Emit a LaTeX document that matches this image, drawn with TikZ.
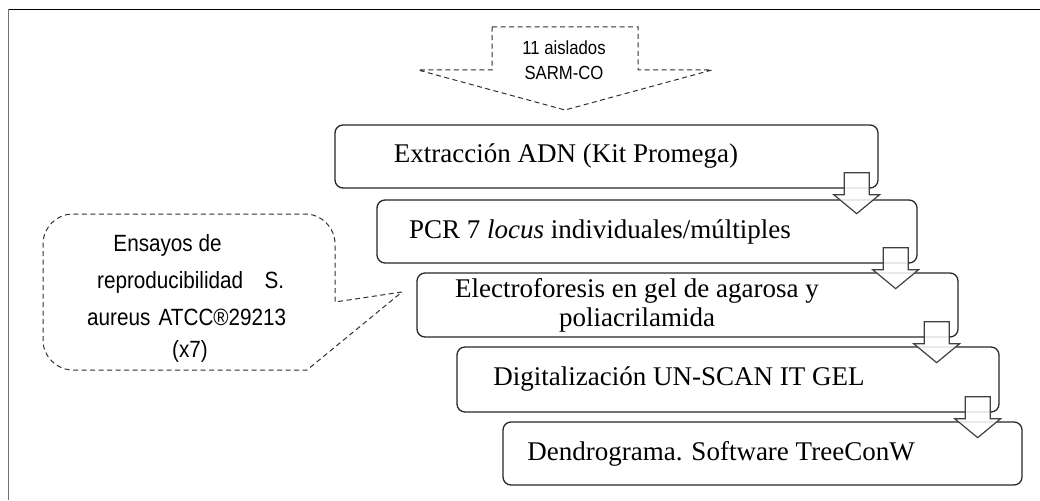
\documentclass[tikz,border=0pt]{standalone}
\usepackage{fontspec}
\setmainfont{Liberation Serif}
\newfontfamily\narrowsans[FakeStretch=0.88]{Liberation Sans}
\usetikzlibrary{calc}
\definecolor{boxgray}{HTML}{262626}
\definecolor{arrowgray}{HTML}{404040}
\definecolor{dashgray}{HTML}{303030}
\definecolor{framegray}{HTML}{707070}
\newcommand\downblock[1]{\draw[blockarrow] ($(#1.south east)+(-34.5,-16)$) -- ++(25,0) -- ++(0,22) -- ++(10.5,0) -- ++(-23,19) -- ++(-23,-19) -- ++(10.5,0) -- cycle;}
\begin{document}
\begin{tikzpicture}[x=1pt,y=-1pt,
  stepbox/.style={draw=boxgray, line width=1.3pt, rounded corners=8pt, inner sep=0pt},
  steptext/.style={font=\fontsize{27}{29}\selectfont, inner sep=0pt, align=center, text=black},
  blockarrow/.style={draw=arrowgray, line width=1.2pt, fill=white, fill opacity=0.85, line join=miter},
  dashline/.style={draw=dashgray, line width=1pt, dash pattern=on 5pt off 3.5pt},
  calltext/.style={font=\narrowsans\fontsize{23.5}{26}\selectfont, inner sep=0pt, text=black},
]
\useasboundingbox (0,0) rectangle (1040,500);
% frame
\draw[black, line width=1.5pt] (8,9.5) -- (1040,9.5);
\draw[framegray, line width=1.8pt] (8.5,9) -- (8.5,500);

% top dashed arrow
\draw[dashline] (492,27) -- (638,27) -- (638,70) -- (712,70) -- (565,110) -- (418,70) -- (492,70) -- cycle;
\node[font=\narrowsans\fontsize{19}{25}\selectfont, align=center, inner sep=0pt, text=black] (src) at (564,60) {11 aislados\\SARM-CO};

% step boxes
\node[stepbox, minimum width=543pt, minimum height=63pt] (b1) at (606.5,156.5) {};
\node[stepbox, minimum width=540pt, minimum height=63pt] (b2) at (647,231.5) {};
\node[stepbox, minimum width=541pt, minimum height=64pt] (b3) at (687.5,305) {};
\node[stepbox, minimum width=542pt, minimum height=65pt] (b4) at (728,379.5) {};
\node[stepbox, minimum width=519pt, minimum height=63pt] (b5) at (762.5,453.5) {};

\node[steptext] (t1) at (566,156.5) {Extracción ADN (Kit Promega)};
\node[steptext] (t2) at (600,231.5) {PCR 7 \textit{locus} individuales/múltiples};
\node[steptext] (t3) at (637,305) {Electroforesis en gel de agarosa y\\poliacrilamida};
\node[steptext] (t4) at (679,379.5) {Digitalización UN-SCAN IT GEL};
\node[steptext] (t5) at (721,453.5) {Dendrograma. Software TreeConW};

% block arrows
\downblock{b1}
\downblock{b2}
\downblock{b3}
\downblock{b4}

% callout
\draw[dashline] (402,292) -- (335,302) [rounded corners=30pt] -- (335,214) -- (43,214) -- (43,370) [sharp corners] -- (307,370) -- cycle;
\node[calltext, anchor=base] (c1) at (167.5,251.5) {Ensayos de};
\node[calltext, anchor=base west] (c2) at (97,288) {\hbox to 187pt{reproducibilidad\hfill S.}};
\node[calltext, anchor=base west] (c3) at (87,325) {\hbox to 199pt{aureus\hfill ATCC®29213}};
\node[calltext, anchor=base] (c4) at (190,357) {(x7)};
\end{tikzpicture}
\end{document}
